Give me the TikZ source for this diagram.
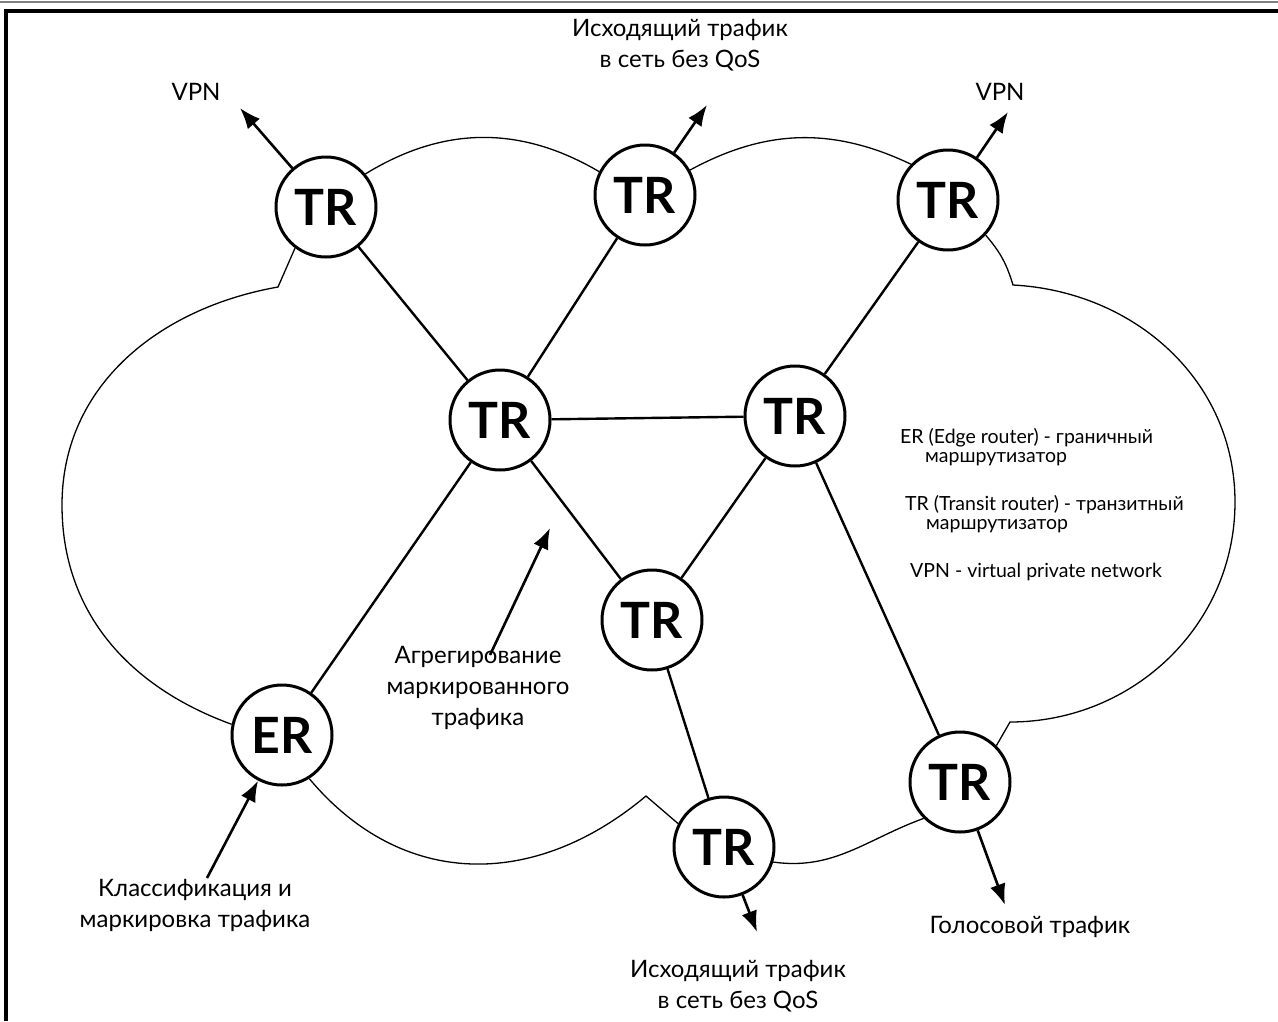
\documentclass[tikz,border=0pt]{standalone}
\usepackage{fontspec}
\setmainfont{Lato}
\usetikzlibrary{arrows.meta}

\begin{document}
\begin{tikzpicture}[x=1pt,y=1pt,
  rtr/.style={circle,draw,line width=3pt,fill=white,minimum size=100pt,inner sep=0pt,font=\fontsize{50}{50}\selectfont\bfseries},
  lnk/.style={line width=2.4pt},
  arr/.style={line width=2.6pt,-{Latex[length=21pt,width=16pt]}},
  cld/.style={line width=1.3pt},
  lbl/.style={align=center,font=\fontsize{24}{31}\selectfont},
  leg/.style={anchor=west,align=left,inner sep=0pt,font=\fontsize{19.5}{19}\selectfont}]
\useasboundingbox (0,0) rectangle (1278,-1021);
\draw[gray,line width=2pt] (0,-1.5)--(1278,-1.5);
\draw[line width=4pt] (6,-1021)--(6,-11)--(1278,-11);
% routers
\node[rtr] (tr1) at (326,-207) {TR};
\node[rtr] (tr2) at (645,-195) {TR};
\node[rtr] (tr3) at (948,-200) {TR};
\node[rtr] (tr4) at (500,-420) {TR};
\node[rtr] (tr5) at (795,-416) {TR};
\node[rtr] (tr6) at (652,-620) {TR};
\node[rtr] (er) at (282,-735) {ER};
\node[rtr] (tr7) at (724,-847) {TR};
\node[rtr] (tr8) at (960,-782) {TR};
% cloud
\draw[cld] (tr1.40) to[bend left=31] (tr2.153);
\draw[cld] (tr2.29) to[bend left=27] (tr3.136);
\draw[cld] (tr3.-43) to[bend left=12] (1013,-285) to[out=-3,in=90] (1235,-502) to[out=-90,in=0] (1010,-722) -- (tr8.45);
\draw[cld] (tr8.225) to[out=200,in=-8] (tr7.-17);
\draw[cld] (tr7.153) -- (646,-796) to[out=220,in=-50,looseness=1.1] (er.-58);
\draw[cld] (er.168) to[out=160,in=-90] (62,-505) to[out=90,in=190] (278,-287) -- (tr1.233);
% links
\draw[lnk] (tr1)--(tr4) (tr2)--(tr4) (tr4)--(tr5) (tr4)--(er) (tr4)--(tr6)
  (tr3)--(tr5) (tr5)--(tr6) (tr5)--(tr8) (tr6)--(tr7);
% traffic
\coordinate (vpnA) at (240,-108);
\coordinate (outA) at (707,-105);
\coordinate (vpnB) at (1008,-112);
\coordinate (outB) at (757,-932);
\coordinate (voiceA) at (1005,-905);
\coordinate (clsA) at (207,-878);
\coordinate (aggA) at (490,-655);
\coordinate (aggB) at (550,-528);
\draw[arr] (tr1)--(vpnA);
\draw[arr] (tr2)--(outA);
\draw[arr] (tr3)--(vpnB);
\draw[arr] (tr7)--(outB);
\draw[arr] (tr8)--(voiceA);
\draw[arr] (clsA)--(er);
\draw[arr] (aggA)--(aggB);
\node[lbl] (vpnl) at (196,-92) {VPN};
\node[lbl] (outl) at (680,-45) {Исходящий трафик\\в сеть без QoS};
\node[lbl] (vpnr) at (1000,-92) {VPN};
\node[lbl] (aggl) at (478,-688) {Агрегирование\\маркированного\\трафика};
\node[lbl] (clsl) at (195,-905) {Классификация и\\маркировка трафика};
\node[lbl] (voicel) at (1030,-927) {Голосовой трафик};
\node[lbl] (outr) at (738,-986) {Исходящий трафик\\в сеть без QoS};
% legend
\node[leg] (ler) at (900,-447) {ER (Edge router) - граничный\\\hspace*{25pt}маршрутизатор};
\node[leg] (ltr) at (905,-514) {TR (Transit router) - транзитный\\\hspace*{21pt}маршрутизатор};
\node[leg] (lvpn) at (910,-572) {VPN - virtual private network};
\end{tikzpicture}
\end{document}
